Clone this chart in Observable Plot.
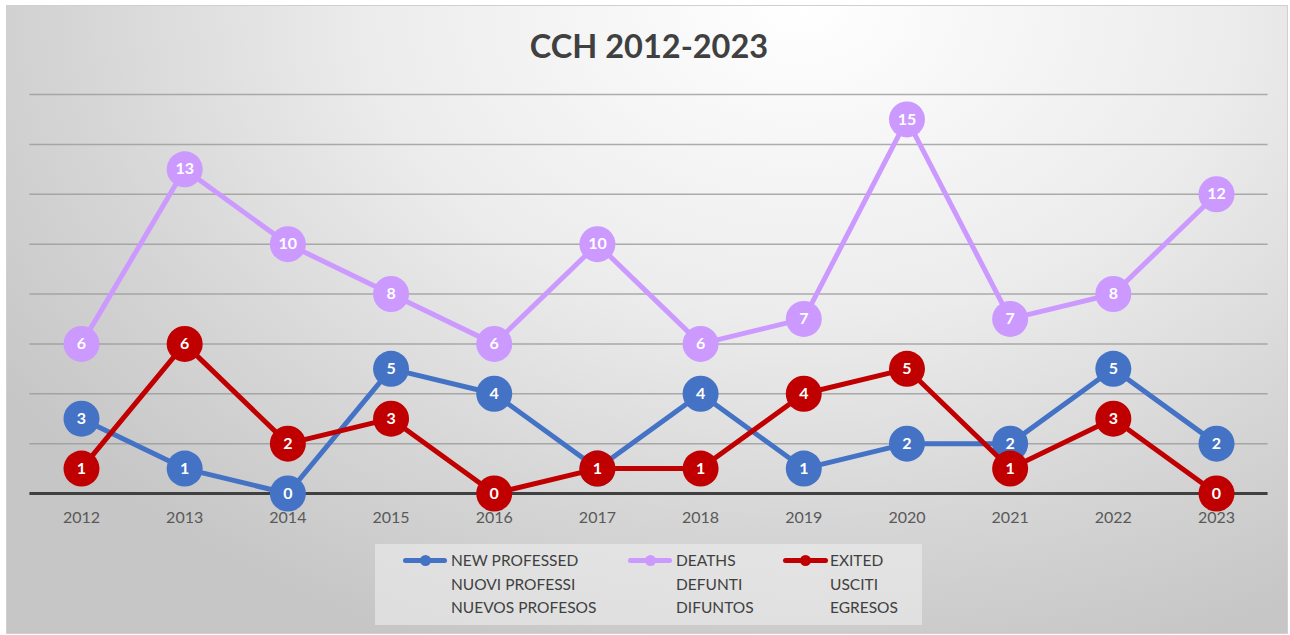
<!DOCTYPE html>
<html>
<head>
<meta charset="utf-8">
<script src="https://cdn.jsdelivr.net/npm/d3@7"></script>
<script src="https://cdn.jsdelivr.net/npm/@observablehq/plot@0.6"></script>
<style>
  html, body { margin: 0; padding: 0; background: #ffffff; }
  body { width: 1290px; height: 635px; position: relative; overflow: hidden; font-family: Lato, "Open Sans", sans-serif; }
  #frame {
    position: absolute; left: 6px; top: 5px; width: 1280px; height: 627px;
    border: 1px solid #d0d0d0;
    background: radial-gradient(ellipse 75% 110% at 62% 0%, #ffffff 0%, #ececec 45%, #d6d6d6 75%, #c6c6c6 100%);
  }
  #title {
    position: absolute; left: 4px; width: 1290px; top: 26px; text-align: center;
    font-size: 32.5px; font-weight: bold; color: #404040;
  }
  #chart { position: absolute; left: 0; top: 0; }
  #legend {
    position: absolute; left: 375px; top: 544px; width: 547px; height: 81px;
    background: rgba(240,240,240,0.55);
  }
  .item { position: absolute; top: 5px; font-size: 15.5px; line-height: 23.5px; color: #404040; }
  .sw { position: absolute; top: 14px; height: 5px; border-radius: 2.5px; }
  .sw .dot { position: absolute; top: -3px; width: 11px; height: 11px; border-radius: 5.5px; }
</style>
</head>
<body>
<div id="frame"></div>
<div id="title"></div>
<div id="chart"></div>
<div id="legend"></div>
<script>
const chartTitle = "CCH 2012-2023";
const years = [2012, 2013, 2014, 2015, 2016, 2017, 2018, 2019, 2020, 2021, 2022, 2023];
const newProfessed = [3, 1, 0, 5, 4, 1, 4, 1, 2, 2, 5, 2];
const deaths = [6, 13, 10, 8, 6, 10, 6, 7, 15, 7, 8, 12];
const exited = [1, 6, 2, 3, 0, 1, 1, 4, 5, 1, 3, 0];
const gridValues = [2, 4, 6, 8, 10, 12, 14, 16];
const seriesNames = [
  ["NEW PROFESSED", "NUOVI PROFESSI", "NUEVOS PROFESOS"],
  ["DEATHS", "DEFUNTI", "DIFUNTOS"],
  ["EXITED", "USCITI", "EGRESOS"]
];
const seriesColors = ["#4472C4", "#CC99FF", "#C00000"];
const seriesValues = [newProfessed, deaths, exited];

document.getElementById("title").textContent = chartTitle;

const marks = [
  Plot.ruleY(gridValues, {stroke: "#9a9a9a", strokeWidth: 1.5, strokeOpacity: 0.8}),
  Plot.ruleY([0], {stroke: "#404040", strokeWidth: 3})
];
seriesValues.forEach((vals, i) => {
  const data = years.map((y, j) => ({year: y, value: vals[j]}));
  marks.push(
    Plot.line(data, {x: "year", y: "value", stroke: seriesColors[i], strokeWidth: 5}),
    Plot.dot(data, {x: "year", y: "value", r: 18, fill: seriesColors[i], stroke: "none"}),
    Plot.text(data, {x: "year", y: "value", text: d => String(d.value), fill: "white", fontWeight: "bold", fontSize: 16})
  );
});
marks.push(
  Plot.axisX(years, {tickSize: 0, tickPadding: 18, tickFormat: d => String(d), fontSize: 16, fill: "#595959", label: null})
);

const plot = Plot.plot({
  width: 1290,
  height: 635,
  marginLeft: 29.4,
  marginRight: 22.4,
  marginTop: 94,
  marginBottom: 142,
  style: {background: "transparent", fontFamily: "Lato, 'Open Sans', sans-serif"},
  x: {type: "linear", domain: [2011.5, 2023.5], axis: null},
  y: {domain: [0, 16], axis: null},
  marks
});
document.getElementById("chart").appendChild(plot);

// legend
const legend = document.getElementById("legend");
const swLeft = [28, 253, 408];
const swWidth = [44, 44, 45];
const textLeft = [76, 301, 455];
seriesNames.forEach((names, i) => {
  const sw = document.createElement("div");
  sw.className = "sw";
  sw.style.left = swLeft[i] + "px";
  sw.style.width = swWidth[i] + "px";
  sw.style.background = seriesColors[i];
  const dot = document.createElement("div");
  dot.className = "dot";
  dot.style.left = (swWidth[i] / 2 - 5.5) + "px";
  dot.style.background = seriesColors[i];
  sw.appendChild(dot);
  legend.appendChild(sw);
  const it = document.createElement("div");
  it.className = "item";
  it.style.left = textLeft[i] + "px";
  it.innerHTML = names.join("<br>");
  legend.appendChild(it);
});
</script>
</body>
</html>
